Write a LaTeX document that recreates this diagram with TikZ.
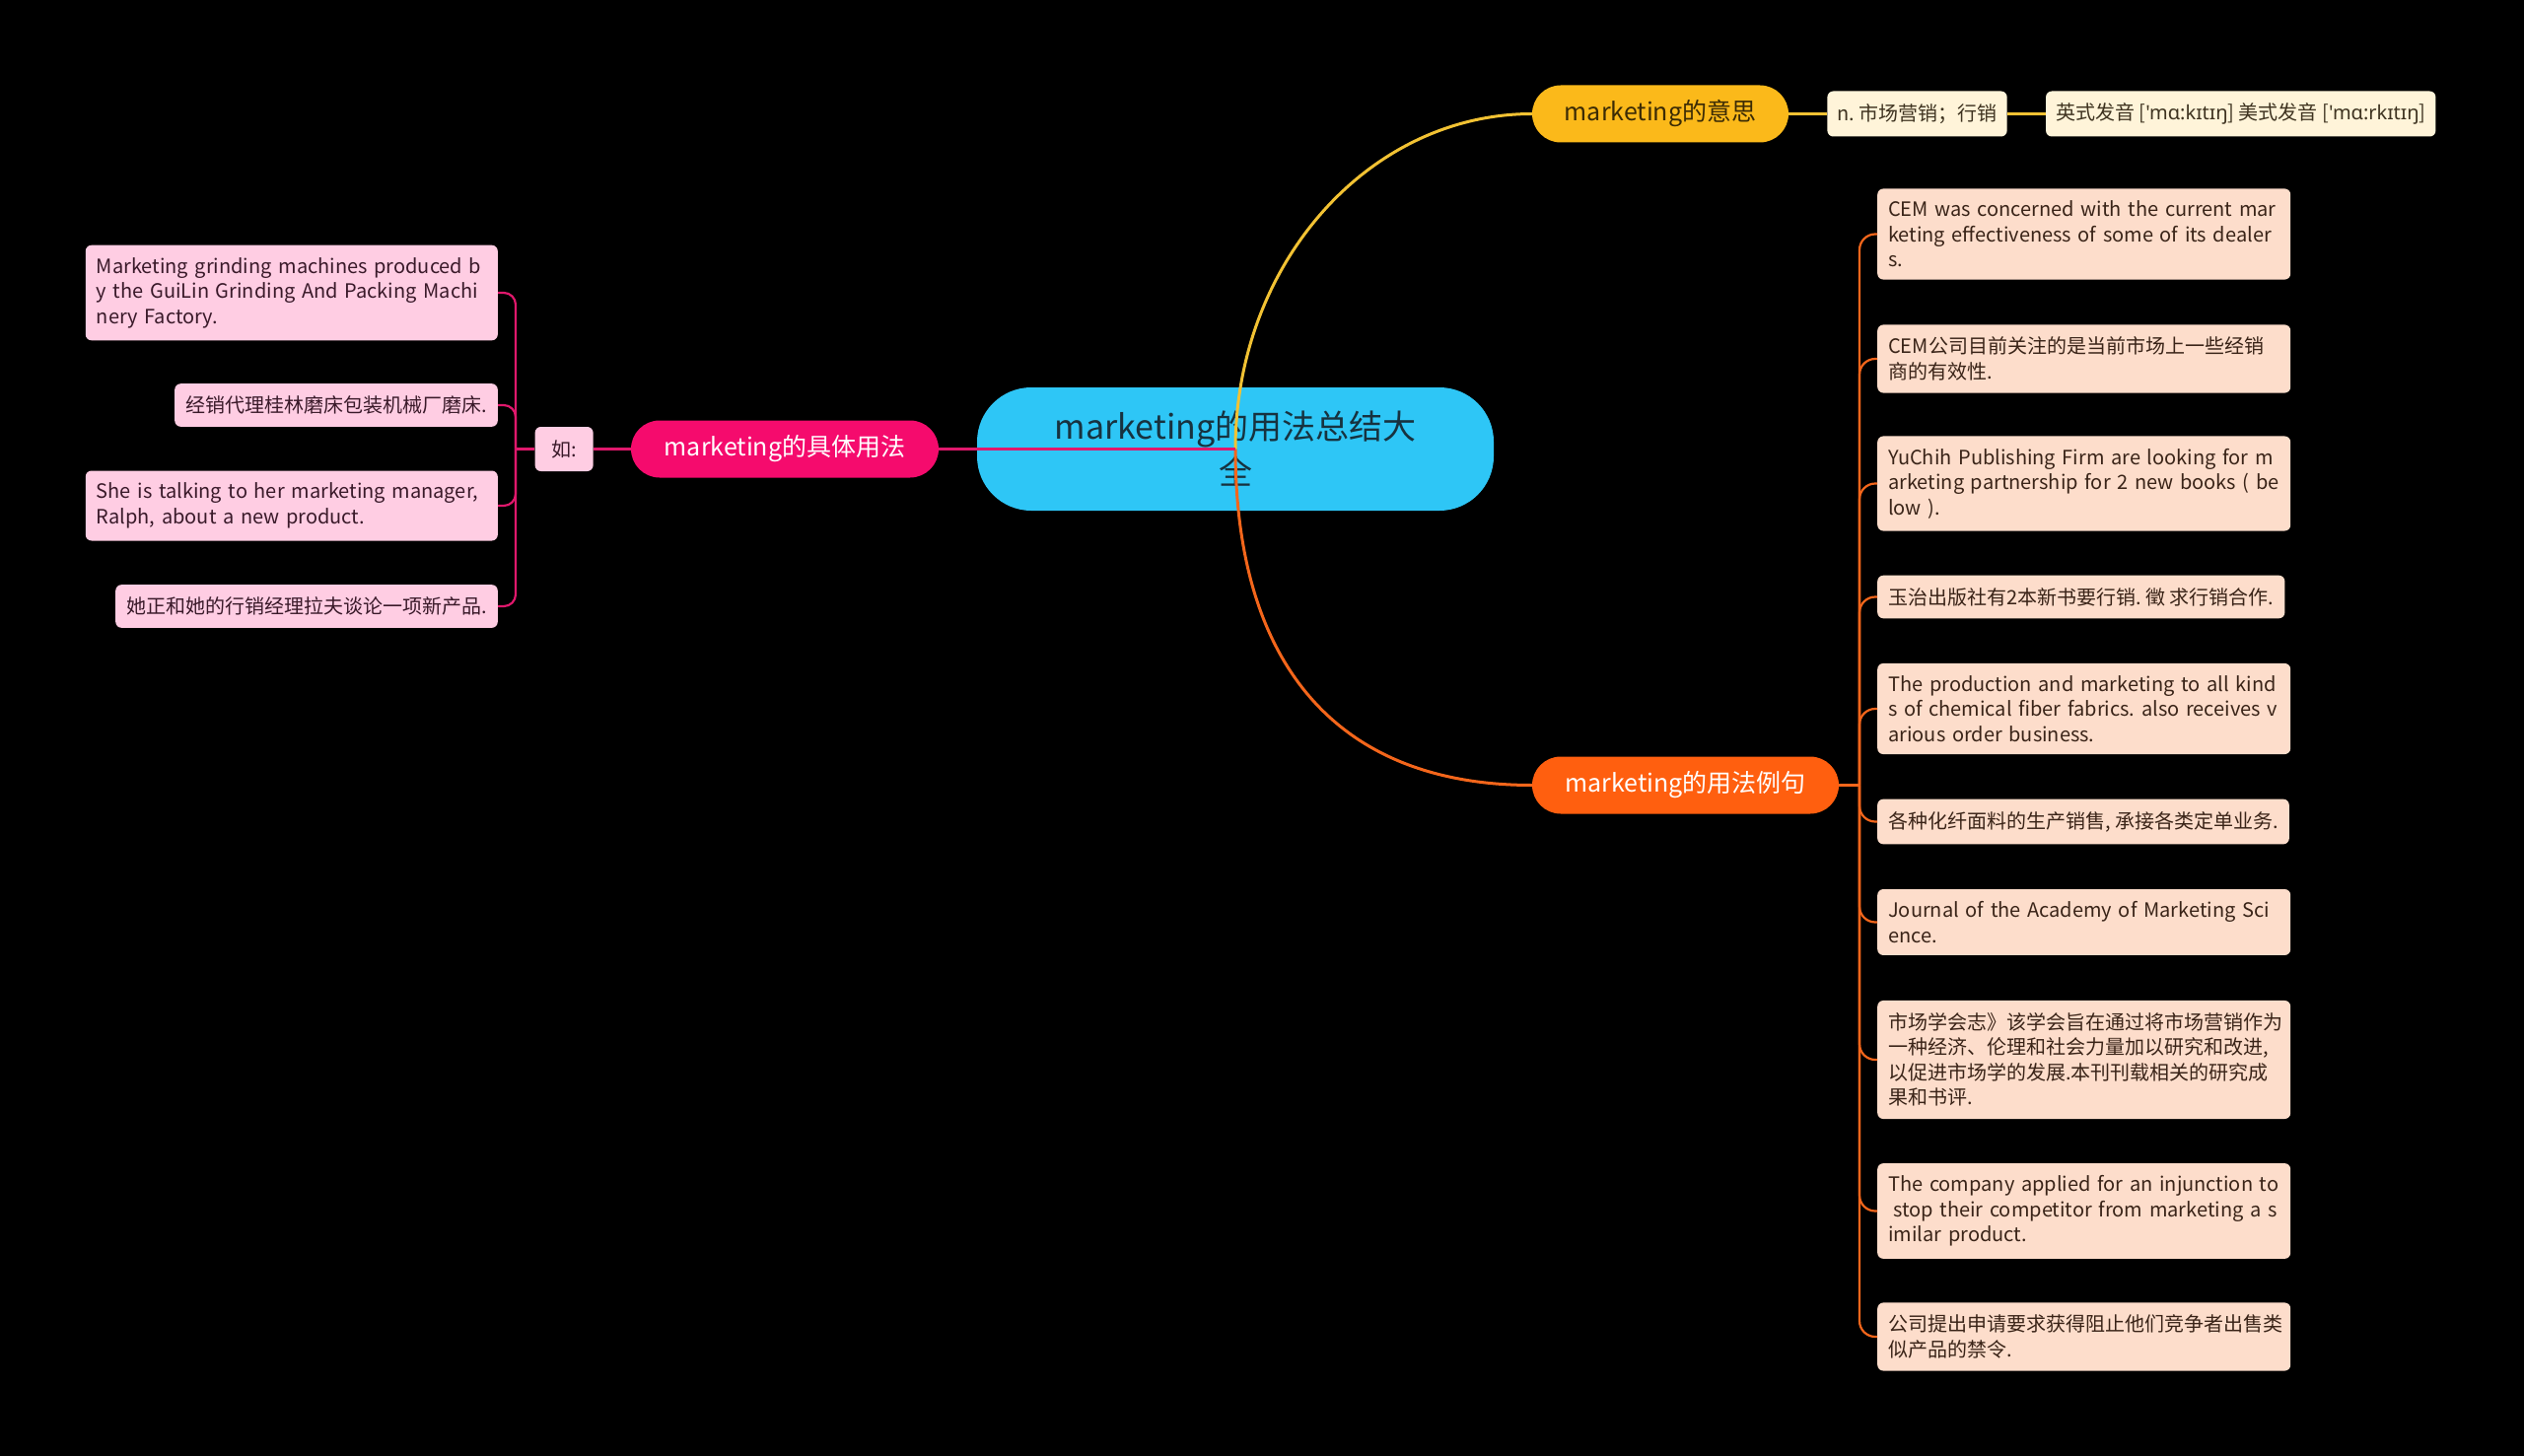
\documentclass[tikz,border=0pt]{standalone}
\usepackage{fontspec}
\setmainfont{Noto Sans CJK SC}
\newfontfamily\ipafont{Noto Sans}
\usepackage{xcolor}
\usepackage{tikz}
\usetikzlibrary{positioning}
\frenchspacing

\definecolor{rootcyan}{HTML}{2EC6F6}
\definecolor{roottext}{HTML}{17323F}
\definecolor{meanamber}{HTML}{FBB91A}
\definecolor{meandark}{HTML}{3B2B05}
\definecolor{meancream}{HTML}{FFF4D9}
\definecolor{meantext}{HTML}{3E3320}
\definecolor{egorange}{HTML}{FF5F0F}
\definecolor{egpeach}{HTML}{FDDDCB}
\definecolor{egtext}{HTML}{3A2418}
\definecolor{usered}{HTML}{F50B6D}
\definecolor{usepink}{HTML}{FFCDE3}
\definecolor{usetext}{HTML}{3A1A2A}
\definecolor{meanline}{HTML}{F2C233}
\definecolor{egline}{HTML}{F4661B}
\definecolor{useline}{HTML}{E0186C}

\newcommand\leaffont{\fontsize{20}{25.5}\selectfont}

\begin{document}
\begin{tikzpicture}[
    x=1pt, y=-1pt,
    root/.style={rectangle, fill=rootcyan, text=roottext, rounded corners=55pt, minimum width=524pt, minimum height=125pt, align=center, font=\fontsize{34}{46}\selectfont},
    topic/.style={rectangle, rounded corners=29pt, minimum height=58pt, font=\fontsize{25}{30}\selectfont},
    meanbox/.style={rectangle, fill=meancream, text=meantext, rounded corners=6pt, minimum height=46pt, inner xsep=10pt, font=\leaffont},
    egbox/.style={rectangle, fill=egpeach, text=egtext, rounded corners=6pt, inner xsep=11pt, inner ysep=12.5pt, font=\leaffont, anchor=west},
    egpara/.style={egbox, text width=397pt, align=left},
    usebox/.style={rectangle, fill=usepink, text=usetext, rounded corners=6pt, inner xsep=11pt, inner ysep=12.5pt, font=\leaffont, anchor=east},
    usepara/.style={usebox, text width=396pt, align=left},
    mline/.style={draw=meanline, line width=3pt},
    eline/.style={draw=egline, line width=3pt},
    uline/.style={draw=useline, line width=3pt},
    esub/.style={draw=egline, line width=2.2pt, rounded corners=16pt},
    usub/.style={draw=useline, line width=2.2pt, rounded corners=12pt}
]
    \useasboundingbox (0,0) rectangle (2560,1477);
    \fill[black] (0,0) rectangle (2560,1477);

    \node[root] (root) at (1253,455.5) {marketing的用法总结大\\全};

    % meaning
    \node[topic, fill=meanamber, text=meandark, minimum width=260pt] (mean) at (1684,115.5) {marketing的意思};
    \node[meanbox, right=39pt of mean] (mean1) {n. 市场营销；行销};
    \node[meanbox, right=39pt of mean1] (mean2) {英式发音 [{\ipafont 'mɑ:kɪtɪŋ}] 美式发音 [{\ipafont 'mɑ:rkɪtɪŋ}]};

    % example sentences
    \node[topic, fill=egorange, text=white, minimum width=311pt] (eg) at (1709.5,796.5) {marketing的用法例句};
    \node[egpara] (e1) at (1904,237.5) {CEM was concerned with the current mar\\keting effectiveness of some of its dealer\\s.};
    \node[egpara] (e2) at (1904,364) {CEM公司目前关注的是当前市场上一些经销\\商的有效性.};
    \node[egpara] (e3) at (1904,490.5) {YuChih Publishing Firm are looking for m\\arketing partnership for 2 new books ( be\\low ).};
    \node[egbox] (e4) at (1904,605.5) {玉治出版社有2本新书要行销. 徵 求行销合作.};
    \node[egpara] (e5) at (1904,719) {The production and marketing to all kind\\s of chemical fiber fabrics. also receives v\\arious order business.};
    \node[egbox] (e6) at (1904,833.5) {各种化纤面料的生产销售, 承接各类定单业务.};
    \node[egpara] (e7) at (1904,935.5) {Journal of the Academy of Marketing Sci\\ence.};
    \node[egpara] (e8) at (1904,1075) {市场学会志》该学会旨在通过将市场营销作为\\一种经济、伦理和社会力量加以研究和改进,\\以促进市场学的发展.本刊刊载相关的研究成\\果和书评.};
    \node[egpara] (e9) at (1904,1228.5) {The company applied for an injunction to\\\hspace*{5pt}stop their competitor from marketing a s\\imilar product.};
    \node[egpara] (e10) at (1904,1356) {公司提出申请要求获得阻止他们竞争者出售类\\似产品的禁令.};

    % usage
    \node[topic, fill=usered, text=white, minimum width=312pt] (use) at (796,455.5) {marketing的具体用法};
    \node[rectangle, fill=usepink, text=usetext, rounded corners=6pt, minimum width=59pt, minimum height=45pt, font=\leaffont, left=38pt of use] (ru) {如:};
    \node[usepara] (u1) at (505,297) {Marketing grinding machines produced b\\y the GuiLin Grinding And Packing Machi\\nery Factory.};
    \node[usebox] (u2) at (505,411) {经销代理桂林磨床包装机械厂磨床.};
    \node[usepara] (u3) at (505,513) {She is talking to her marketing manager,\\Ralph, about a new product.};
    \node[usebox] (u4) at (505,615) {她正和她的行销经理拉夫谈论一项新产品.};

    % connectors
    \draw[mline] (root.center) .. controls (1253,268) and (1388,115.5) .. (mean.west);
    \draw[mline] (mean) -- (mean1);
    \draw[mline] (mean1) -- (mean2);

    \draw[eline] (root.center) .. controls (1253,676) and (1358,796.5) .. (eg.west);
    \coordinate (rfork) at (1886,796.5);
    \draw[eline] (eg.east) -- (rfork);
    \foreach \n in {1,...,10}
        \draw[esub] (rfork) |- (e\n.west);

    \draw[uline] (root.center) -- (use.east);
    \draw[uline] (use) -- (ru);
    \coordinate (lfork) at (523,455.5);
    \draw[uline] (ru.west) -- (lfork);
    \foreach \n in {1,...,4}
        \draw[usub] (lfork) |- (u\n.east);
\end{tikzpicture}
\end{document}
